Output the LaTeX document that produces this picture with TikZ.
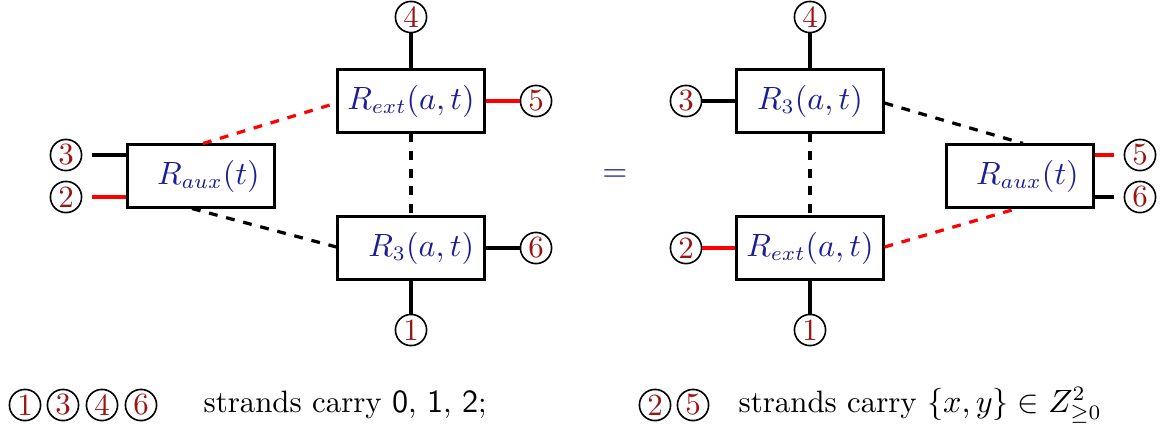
\documentclass[tikz,border=0pt]{standalone}
\usepackage{amssymb}
\usetikzlibrary{calc}
\definecolor{numred}{RGB}{155,20,20}
\definecolor{txtblue}{RGB}{28,28,150}
\begin{document}
\begin{tikzpicture}[x=0.34pt,y=-0.34pt,
  box/.style={draw,line width=0.7pt,minimum width=49.98pt,minimum height=21.42pt,inner sep=0pt,text=txtblue,font=\fontsize{10.5}{12}\selectfont},
  num/.style={draw,circle,line width=0.55pt,inner sep=0pt,minimum size=10.6pt,text=numred,font=\fontsize{10.5}{12}\selectfont},
  wire/.style={line width=1.1pt},
  rwire/.style={line width=1.1pt,red},
  dline/.style={line width=1.1pt,dashed},
  rdline/.style={line width=1.1pt,dashed,red},
  legend/.style={font=\fontsize{10.5}{12}\selectfont,anchor=base west,inner sep=0pt}]
\useasboundingbox (0,0) rectangle (1168,434);
% ---- left diagram
\node[box] (auxL) at (201,176) {\hspace{5pt}$R_{aux}(t)$};
\node[box] (extL) at (411,101) {$R_{ext}(a,t)$};
\node[box] (r3L) at (411,248) {\hspace{7pt}$R_3(a,t)$};
\node[num] (L4) at (411,17) {4};
\node[num] (L5) at (536,101) {5};
\node[num] (L6) at (536,248) {6};
\node[num] (L1) at (411,330) {1};
\node[num] (L3) at (66,155) {3};
\node[num] (L2) at (66,197) {2};
\draw[wire] (L4) -- (extL);
\draw[wire] (r3L) -- (L1);
\draw[rwire] (extL) -- (L5);
\draw[wire] (r3L) -- (L6);
\draw[wire] ($(L3.east)+(10,0)$) -- (L3 -| auxL.west);
\draw[rwire] ($(L2.east)+(10,0)$) -- (L2 -| auxL.west);
\draw[rdline] ($(auxL.north)+(2,0)$) -- ($(extL.west)+(0,2)$);
\draw[dline] ($(auxL.south)+(-9,0)$) -- ($(r3L.west)+(0,-1)$);
\draw[dline] (extL) -- (r3L);
% ---- equals
\node[text=txtblue,font=\fontsize{10.5}{12}\selectfont] (eq) at (615,176) {$=$};
% ---- right diagram
\node[box] (r3R) at (810,101) {$R_3(a,t)$};
\node[box] (extR) at (810,248) {$R_{ext}(a,t)$};
\node[box] (auxR) at (1020,176) {\hspace{5pt}$R_{aux}(t)$};
\node[num] (R4) at (810,17) {4};
\node[num] (R1) at (810,330) {1};
\node[num] (R3) at (686,101) {3};
\node[num] (R2) at (686,248) {2};
\node[num] (R5) at (1140,155) {5};
\node[num] (R6) at (1140,197) {6};
\draw[wire] (R4) -- (r3R);
\draw[wire] (extR) -- (R1);
\draw[wire] (R3) -- (r3R);
\draw[rwire] (R2) -- (extR);
\draw[rwire] ($(R5.west)+(-10,0)$) -- (R5 -| auxR.east);
\draw[wire] ($(R6.west)+(-10,0)$) -- (R6 -| auxR.east);
\draw[dline] ($(r3R.east)+(0,2)$) -- ($(auxR.north)+(3,0)$);
\draw[rdline] ($(extR.east)+(0,-1)$) -- ($(auxR.south)+(-3,0)$);
\draw[dline] (r3R) -- (extR);
% ---- legend
\node[num] (g1) at (25,405) {1};
\node[num] (g3) at (63,405) {3};
\node[num] (g4) at (102,405) {4};
\node[num] (g6) at (141,405) {6};
\node[legend] (t1) at (203,412) {strands carry $\mathsf{0}$, $\mathsf{1}$, $\mathsf{2}$;};
\node[num] (g2) at (655,405) {2};
\node[num] (g5) at (693,405) {5};
\node[legend] (t2) at (738,412) {strands carry $\{x,y\}\in Z^2_{\geq 0}$};
\end{tikzpicture}
\end{document}
